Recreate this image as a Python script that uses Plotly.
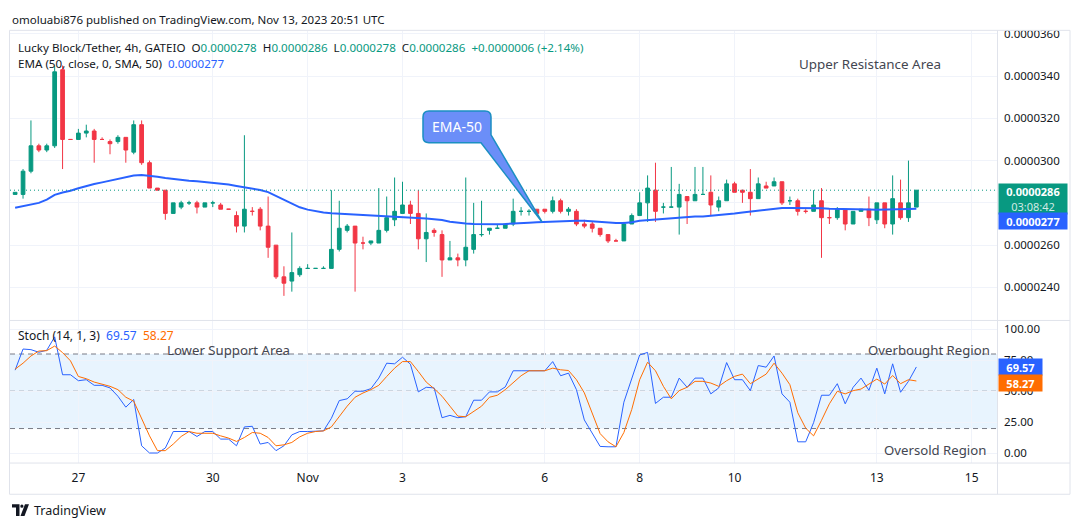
import numpy as np
import pandas as pd
import plotly.graph_objects as go

UNIT = 1e-7  # prices below are in units of 0.0000001 USDT

# ---------------- data ----------------
opens = [284, 284, 295, 307, 305, 307, 343, 310, 310, 313, 314, 310, 309, 309, 311, 304, 317, 299, 287, 286,
         275, 278, 280, 280, 278, 280, 279, 277, 274, 269, 276, 277, 269, 260, 245, 243, 246, 249, 249, 249,
         249, 258, 267, 269, 261, 261, 261, 267, 272, 275, 279, 275, 263, 267, 265, 253, 254, 253, 258, 265,
         267, 268, 268, 270, 276, 276, 277, 277, 276, 281, 276, 276, 270, 270, 268, 265, 262, 262, 270, 274,
         280, 286, 278, 278, 278, 283, 281, 284, 285, 278, 281, 289, 286, 285, 282, 288, 288, 290, 281, 281,
         276, 276, 281, 273, 273, 277, 270, 276, 277, 272, 280, 270, 280, 273, 278]
highs = [285, 296, 319, 308, 308, 345, 345, 310, 315, 317, 315, 311, 310, 312, 311, 319, 319, 300, 287, 286,
         280, 281, 281, 281, 280, 281, 280, 277, 276, 312, 278, 278, 283, 260, 250, 266, 250, 251, 249, 250,
         286, 281, 270, 269, 264, 262, 287, 283, 292, 290, 281, 286, 275, 268, 267, 262, 256, 292, 280, 281,
         268, 270, 270, 282, 278, 277, 277, 277, 283, 282, 278, 277, 272, 271, 268, 265, 263, 271, 275, 285,
         293, 299, 280, 297, 289, 283, 297, 297, 293, 283, 291, 290, 286, 296, 292, 290, 292, 290, 283, 282,
         277, 286, 287, 277, 278, 277, 276, 277, 283, 280, 280, 293, 291, 300, 286]
lows = [284, 282, 294, 304, 304, 306, 296, 310, 310, 311, 299, 310, 303, 308, 299, 303, 298, 287, 286, 272,
        275, 277, 279, 275, 278, 278, 277, 277, 266, 266, 274, 267, 254, 244, 236, 238, 245, 249, 249, 249,
        249, 257, 266, 238, 258, 260, 261, 266, 269, 275, 270, 258, 252, 264, 245, 253, 250, 250, 256, 264,
        265, 268, 268, 269, 274, 274, 275, 275, 275, 275, 274, 269, 268, 266, 264, 261, 262, 262, 270, 274,
        271, 271, 275, 278, 265, 270, 281, 284, 274, 276, 281, 285, 280, 274, 282, 287, 288, 279, 279, 274,
        275, 276, 254, 270, 272, 267, 270, 276, 269, 270, 268, 265, 272, 271, 278]
closes = [285, 295, 307, 305, 307, 342, 310, 310, 313, 314, 310, 310, 308, 311, 305, 317, 299, 287, 286, 275,
          280, 280, 280, 278, 280, 280, 277, 277, 269, 277, 276, 269, 259, 245, 242, 247, 249, 249, 249, 249,
          258, 268, 269, 261, 261, 262, 267, 273, 276, 279, 275, 263, 266, 266, 253, 254, 253, 259, 265, 265,
          268, 268, 270, 276, 276, 276, 275, 276, 281, 276, 277, 270, 269, 268, 265, 262, 262, 270, 274, 280,
          287, 276, 278, 278, 284, 281, 284, 284, 279, 281, 289, 285, 285, 282, 289, 287, 290, 280, 281, 276,
          276, 279, 273, 273, 277, 270, 276, 277, 273, 280, 270, 282, 273, 280, 286]
ema50 = [277.7, 278.4, 279.1, 280.0, 281.5, 283.8, 284.9, 285.7, 286.9, 288.0, 288.9, 289.7, 290.5, 291.1, 291.9,
         292.9, 293.2, 292.9, 292.4, 291.8, 291.3, 290.8, 290.5, 290.2, 289.9, 289.6, 289.1, 288.7, 288.0, 287.4,
         286.9, 286.1, 285.1, 283.3, 281.5, 279.6, 277.9, 276.8, 276.0, 275.4, 275.1, 274.9, 274.9, 274.6, 274.4,
         274.1, 273.8, 273.6, 273.4, 273.3, 273.1, 273.0, 272.6, 272.3, 271.9, 271.1, 270.5, 270.2, 270.0, 269.9,
         269.9, 269.9, 270.0, 270.3, 270.5, 270.6, 270.8, 271.0, 271.3, 271.5, 271.6, 271.6, 271.5, 271.2, 270.8,
         270.6, 270.5, 270.5, 270.8, 271.5, 271.8, 272.2, 272.6, 272.8, 273.0, 273.3, 273.5, 273.6, 273.9, 274.4,
         274.7, 275.0, 275.5, 275.9, 276.3, 276.6, 277.1, 277.6, 277.6, 277.6, 277.6, 277.6, 277.4, 277.2, 277.2,
         277.1, 277.1, 277.1, 276.9, 276.8, 276.8, 276.9, 276.9, 277.1, 277.2]
stoch_k = [67, 84, 83.5, 81.4, 83, 93.8, 63.3, 63.3, 58.5, 59.3, 54.8, 54.8, 52.7, 46, 37.2, 43.4, 6.1, 0.3, 0.3, 4.3,
           17.6, 17.6, 17.6, 13.6, 17.6, 17.6, 11.5, 11.5, 6.1, 21.3, 21.8, 7.5, 8.8, 2.2, 6.1, 14.9, 17.6, 17.6, 17.6, 18.1,
           28.2, 42.5, 43.9, 50, 50, 52.1, 60.6, 72.6, 72.1, 77.4, 71.8, 49.5, 53.2, 52.7, 28.7, 30.6, 28.7, 29.5, 42.8, 42.8,
           49.5, 49.5, 53.5, 66.5, 66.5, 66.5, 66.5, 66.5, 73.9, 62.5, 64.6, 51.3, 26.9, 16.8, 5.6, 5.3, 5.3, 41.2, 59.3, 79.2,
           81.3, 40.2, 45.2, 45.2, 60.6, 53.2, 60.6, 60.6, 47.9, 52.7, 73.1, 59.3, 59.3, 50.5, 70.7, 69.4, 78.4, 47.9, 41.2, 9.3,
           9.3, 24.7, 46.8, 46.8, 56.1, 39.9, 53.2, 60.6, 50.8, 68.6, 47.9, 72.1, 49.2, 58, 69.57]
stoch_d = [67.8, 72.6, 78.4, 82.4, 82.7, 86.4, 81.1, 74.5, 61.9, 60.1, 57.4, 55.8, 54, 51.3, 45.2, 42, 28.2, 14.1, 2.2, 2.2,
           7.5, 13.6, 17.6, 16.2, 16.2, 16.2, 14.1, 12.3, 9.6, 12.8, 16.8, 16.2, 12.8, 6.1, 6.9, 8.8, 13.3, 16.2, 17.6, 18.1,
           21.3, 29.5, 38, 45.2, 48.6, 51.3, 54.8, 61.9, 68.6, 73.9, 73.9, 65.9, 57.4, 52.1, 46, 38, 30, 29.5, 34, 38,
           45.2, 46.8, 51.3, 56.6, 62.5, 66.5, 66.5, 66.5, 68.6, 67.3, 66.7, 59.3, 48.7, 32.7, 15.9, 9.3, 5.3, 16.8, 35.4, 59.3,
           73.4, 66.5, 54, 43.9, 50.5, 53.2, 58, 58, 56.6, 54, 58.5, 62, 63.8, 56.1, 59.8, 63.8, 72.6, 64.6, 55.3, 32.7,
           20.3, 14.1, 26.6, 39.9, 50, 47.9, 50.5, 51.8, 55.8, 59.8, 55.8, 62.7, 56.1, 59.3, 58.27]

# 4h bars; the exchange feed has one bar missing between Oct 27 and Oct 30
bar_times = pd.date_range("2023-10-25 16:00", "2023-11-13 20:00", freq="4h").drop(pd.Timestamp("2023-10-28 12:00"))
tick_dates = ["2023-10-27", "2023-10-30", "2023-11-01", "2023-11-03", "2023-11-06",
              "2023-11-08", "2023-11-10", "2023-11-13", "2023-11-15"]
tick_labels = ["27", "30", "Nov", "3", "6", "8", "10", "13", "15"]
price_ticks = [240, 260, 280, 300, 320, 340, 360]
price_tick_text = ["0.0000240", "0.0000260", "", "0.0000300", "0.0000320", "0.0000340", "0.0000360"]
stoch_ticks = [0, 25, 50, 75, 100]

# ---------------- derived ----------------
x = np.arange(len(opens))
tick_idx = []
for d in tick_dates:
    t = pd.Timestamp(d)
    if t in bar_times:
        tick_idx.append(int(bar_times.get_loc(t)))
    else:
        tick_idx.append(len(bar_times) - 1 + (t - bar_times[-1]) / pd.Timedelta("4h"))

GREEN, RED, BLUE, ORANGE = "#089981", "#f23645", "#2962ff", "#ff6d00"
TXT, GRID, FRAME = "#131722", "#f0f3fa", "#e0e3eb"
FONT = "Noto Sans"

# the page body has an 8px margin: figure is sized so page == 1080x528
OX, OY = 8, 8
FW, FH = 1080 - 2 * OX, 528 - 2 * OY


def px(v):
    return (v - OX) / FW


def py(v):
    return 1 - (v - OY) / FH


def P(xp, yp):
    return f"{px(xp):.5f},{py(yp):.5f}"


fig = go.Figure()
fig.add_trace(go.Candlestick(
    x=x, open=np.array(opens) * UNIT, high=np.array(highs) * UNIT,
    low=np.array(lows) * UNIT, close=np.array(closes) * UNIT,
    increasing=dict(line=dict(color=GREEN, width=1), fillcolor=GREEN),
    decreasing=dict(line=dict(color=RED, width=1), fillcolor=RED),
    whiskerwidth=0, hoverinfo="skip", xaxis="x", yaxis="y"))
fig.add_trace(go.Scatter(x=x, y=np.array(ema50) * UNIT, mode="lines",
                         line=dict(color=BLUE, width=2), hoverinfo="skip", xaxis="x", yaxis="y"))
fig.add_trace(go.Scatter(x=x, y=stoch_k, mode="lines", line=dict(color=BLUE, width=1),
                         hoverinfo="skip", xaxis="x2", yaxis="y2"))
fig.add_trace(go.Scatter(x=x, y=stoch_d, mode="lines", line=dict(color=ORANGE, width=1),
                         hoverinfo="skip", xaxis="x2", yaxis="y2"))

xdom = [px(10), px(997)]
xr = [-0.65, 124.2]
fig.update_layout(
    width=FW, height=FH, margin=dict(l=0, r=0, t=0, b=0),
    paper_bgcolor="white", plot_bgcolor="white", showlegend=False, hovermode=False,
    font=dict(family=FONT, color=TXT, size=12), boxgap=0.33,
    xaxis=dict(domain=xdom, range=xr, anchor="y", tickvals=tick_idx, showticklabels=False,
               showgrid=True, gridcolor=GRID, zeroline=False, showline=False, ticks="",
               rangeslider=dict(visible=False), fixedrange=True),
    xaxis2=dict(domain=xdom, range=xr, anchor="y2", matches="x", tickvals=tick_idx, ticktext=tick_labels,
                showgrid=True, gridcolor=GRID, zeroline=False, showline=False, ticks="",
                tickfont=dict(size=12, color=TXT), ticklabelstandoff=6, fixedrange=True),
    yaxis=dict(domain=[py(318), py(26)], anchor="x", side="right",
               range=[224.6 * UNIT, 361.4 * UNIT], tickvals=[t * UNIT for t in price_ticks],
               ticktext=price_tick_text, showgrid=True, gridcolor=GRID, zeroline=False, showline=False,
               ticks="", tickfont=dict(size=11.5, color=TXT), ticklabelstandoff=6, fixedrange=True),
    yaxis2=dict(domain=[py(462), py(319)], anchor="x2", side="right", range=[-7.4, 106.6],
                tickvals=stoch_ticks, tickformat=".2f", showgrid=True, gridcolor=GRID,
                zeroline=False, showline=False, ticks="", tickfont=dict(size=11.5, color=TXT),
                ticklabelstandoff=6, fixedrange=True),
)

shapes = []
# stochastic band
shapes.append(dict(type="rect", xref="paper", yref="y2", x0=px(10), x1=px(997), y0=20, y1=80,
                   fillcolor="rgba(33,150,243,0.1)", line=dict(width=0), layer="below"))
for lv in (80, 50, 20):
    shapes.append(dict(type="line", xref="paper", yref="y2", x0=px(10), x1=px(997), y0=lv, y1=lv,
                       line=dict(color="#787b86", width=1, dash="5px,4px"), layer="below"))
# last price dotted line
shapes.append(dict(type="line", xref="paper", yref="y", x0=px(10), x1=px(997),
                   y0=closes[-1] * UNIT, y1=closes[-1] * UNIT,
                   line=dict(color=GREEN, width=1, dash="1px,3px"), layer="above"))
# mask above the top frame on price axis
shapes.append(dict(type="rect", xref="paper", yref="paper", x0=px(990), x1=1, y0=py(25.5), y1=1,
                   fillcolor="white", line=dict(width=0), layer="above"))
# frame lines
shapes.append(dict(type="rect", xref="paper", yref="paper", x0=px(9.5), x1=px(1070), y0=py(494), y1=py(25.5),
                   line=dict(color=FRAME, width=1), layer="above"))
for yy in (318.5, 462.5):
    shapes.append(dict(type="line", xref="paper", yref="paper", x0=px(9.5), x1=px(1070), y0=py(yy), y1=py(yy),
                       line=dict(color=FRAME, width=1), layer="above"))
shapes.append(dict(type="line", xref="paper", yref="paper", x0=px(997.5), x1=px(997.5), y0=py(494), y1=py(25.5),
                   line=dict(color=FRAME, width=1), layer="above"))
# EMA-50 callout
r = 6
callout = ("M " + P(423 + r, 107) + " L " + P(491 - r, 107) + " Q " + P(491, 107) + " " + P(491, 107 + r) +
           " L " + P(491, 131) + " L " + P(542, 219) + " L " + P(481, 139) + " L " + P(423 + r, 139) +
           " Q " + P(423, 139) + " " + P(423, 139 - r) + " L " + P(423, 107 + r) +
           " Q " + P(423, 107) + " " + P(423 + r, 107) + " Z")
shapes.append(dict(type="path", xref="paper", yref="paper", path=callout,
                   fillcolor="#6b8ef8", line=dict(color="#1b8fc2", width=1.5), layer="above"))
# TradingView logo
logo_a = "M " + P(12, 504) + " L " + P(19.5, 504) + " L " + P(19.5, 516) + " L " + P(16, 516) + \
         " L " + P(16, 507.5) + " L " + P(12, 507.5) + " Z"
logo_b = "M " + P(25, 504) + " L " + P(29, 504) + " L " + P(24.5, 516) + " L " + P(20.5, 516) + " Z"
shapes.append(dict(type="path", xref="paper", yref="paper", path=logo_a, fillcolor=TXT, line=dict(width=0)))
shapes.append(dict(type="path", xref="paper", yref="paper", path=logo_b, fillcolor=TXT, line=dict(width=0)))
shapes.append(dict(type="circle", xref="paper", yref="paper", x0=px(20.3), x1=px(23.5), y0=py(507.6), y1=py(504.4),
                   fillcolor=TXT, line=dict(width=0)))
fig.update_layout(shapes=shapes)

ann = []


def text(xp, yp, s, size=12, color=TXT, xanchor="left", **kw):
    ann.append(dict(xref="paper", yref="paper", x=px(xp), y=py(yp), text=s, showarrow=False,
                    xanchor=xanchor, yanchor="middle", font=dict(size=size, color=color, family=FONT), **kw))


def g(v):
    return f"<span style='color:{GREEN}'>{v}</span>"


fmt = lambda v: f"{v * UNIT:.7f}"
chg = closes[-1] - closes[-2]
text(10, 15, "omoluabi876 published on TradingView.com, Nov 13, 2023 20:51 UTC", size=11.5)
text(16, 42.5, "Lucky Block/Tether, 4h, GATEIO  O" + g(fmt(opens[-1])) + "  H" + g(fmt(highs[-1])) +
     "  L" + g(fmt(lows[-1])) + "  C" + g(fmt(closes[-1])) + "  " +
     g(f"+{fmt(chg)} (+{chg / closes[-2] * 100:.2f}%)"), size=11.6)
text(16, 59.5, "EMA (50, close, 0, SMA, 50)  " + f"<span style='color:{BLUE}'>{fmt(round(ema50[-1]))}</span>",
     size=11.6)
text(16, 334, "Stoch (14, 1, 3)  " + f"<span style='color:{BLUE}'>{stoch_k[-1]:.2f}</span>  " +
     f"<span style='color:{ORANGE}'>{stoch_d[-1]:.2f}</span>", size=12)
text(869.5, 60, "Upper Resistance Area", size=13.4, color="#434651", xanchor="center")
text(228.5, 348.5, "Lower Support Area", size=13.2, color="#434651", xanchor="center")
text(929, 348.5, "Overbought Region", size=13.2, color="#434651", xanchor="center")
text(935, 449.5, "Oversold Region", size=13.2, color="#434651", xanchor="center")
text(457, 123, "EMA-50", size=14, color="white", xanchor="center")
text(32, 510, "TradingView", size=12.5, color=TXT)

# price-scale tags
ann.append(dict(xref="paper", yref="y", x=px(998), y=closes[-1] * UNIT, xanchor="left", yanchor="top",
                yshift=7.5, showarrow=False, bgcolor=GREEN, borderpad=2, width=64, height=26,
                text=f"<b>{fmt(closes[-1])}</b><br><span style='color:rgba(255,255,255,0.82)'>03:08:42</span>",
                font=dict(size=11, color="white", family=FONT)))
ann.append(dict(xref="paper", yref="y", x=px(998), y=round(ema50[-1]) * UNIT, xanchor="left", yanchor="middle",
                yshift=-12, showarrow=False, bgcolor=BLUE, borderpad=2, width=64, height=12,
                text=f"<b>{fmt(round(ema50[-1]))}</b>", font=dict(size=11, color="white", family=FONT)))
ann.append(dict(xref="paper", yref="y2", x=px(998), y=stoch_k[-1], xanchor="left", yanchor="middle",
                showarrow=False, bgcolor=BLUE, borderpad=2, width=39, height=12,
                text=f"<b>{stoch_k[-1]:.2f}</b>", font=dict(size=11, color="white", family=FONT)))
ann.append(dict(xref="paper", yref="y2", x=px(998), y=stoch_d[-1], xanchor="left", yanchor="middle",
                yshift=-2, showarrow=False, bgcolor=ORANGE, borderpad=2, width=39, height=12,
                text=f"<b>{stoch_d[-1]:.2f}</b>", font=dict(size=11, color="white", family=FONT)))
fig.update_layout(annotations=ann)

fig.write_html("out.html")
